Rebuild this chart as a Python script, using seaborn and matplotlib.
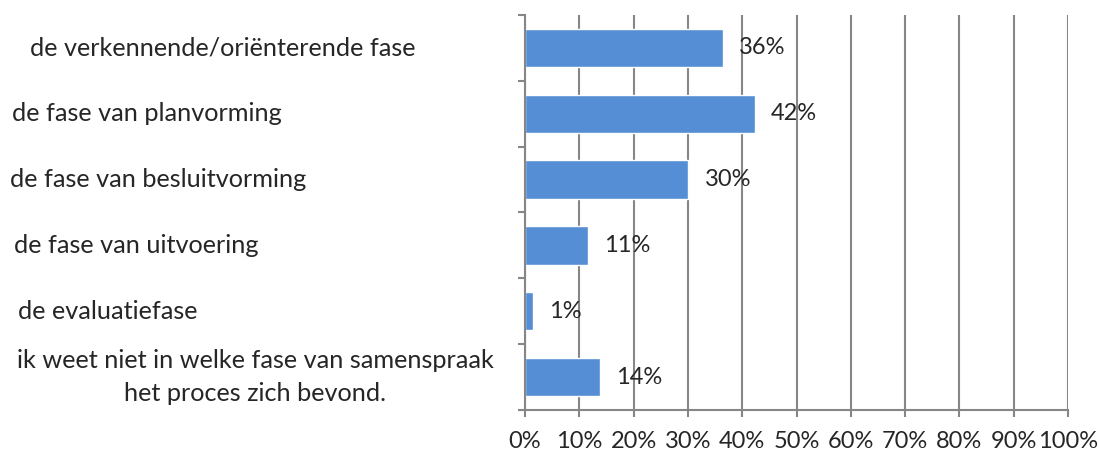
import pandas as pd
import seaborn as sns
import matplotlib.pyplot as plt
from matplotlib.ticker import FixedLocator

categories = [
    "de verkennende/oriënterende fase",
    "de fase van planvorming",
    "de fase van besluitvorming",
    "de fase van uitvoering",
    "de evaluatiefase",
    "ik weet niet in welke fase van samenspraak\nhet proces zich bevond.",
]
values = [36.4, 42.3, 30.1, 11.6, 1.5, 13.8]
labels = ["36%", "42%", "30%", "11%", "1%", "14%"]

df = pd.DataFrame({"fase": categories, "pct": values})

sns.set_style("white")
plt.rcParams["font.family"] = ["Lato", "DejaVu Sans"]

fig = plt.figure(figsize=(11, 4.54), dpi=100)
ax = fig.add_axes([0.4773, 0.0969, 0.4936, 0.8701])

sns.barplot(data=df, x="pct", y="fase", orient="h", color="#558ED5",
            saturation=1, width=0.58, ax=ax)

grey = "#868686"
ax.set_xlim(0, 100)
ax.set_ylim(5.5, -0.5)
ax.set_xticks(range(0, 101, 10))
ax.set_xticklabels([f"{t}%" for t in range(0, 101, 10)], fontsize=17)
ax.xaxis.grid(True, color=grey, linewidth=1.5)
ax.set_axisbelow(True)

# category boundaries as ticks on the left spine
ax.set_yticks([])
ax.yaxis.set_minor_locator(FixedLocator([i - 0.5 for i in range(7)]))
ax.tick_params(axis="y", which="minor", left=True, length=5, width=1.5, color=grey)
ax.tick_params(axis="x", bottom=True, length=5, width=1.5, color=grey, pad=10)
ax.set_xlabel("")
ax.set_ylabel("")

for side in ["top", "right"]:
    ax.spines[side].set_visible(False)
for side in ["left", "bottom"]:
    ax.spines[side].set_color(grey)
    ax.spines[side].set_linewidth(1.5)

# value labels next to the bars
for i, (v, lab) in enumerate(zip(values, labels)):
    ax.annotate(lab, (v, i), xytext=(16, 0), textcoords="offset pixels",
                va="center", ha="left", fontsize=17)

# category texts, placed like the original (left edge in figure pixels)
label_x = [30, 12, 10, 14, 18]
for i, (cat, px) in enumerate(zip(categories[:5], label_x)):
    ax.annotate(cat, (0, i), xycoords=("figure pixels", "data"),
                xytext=(px, 0), textcoords="offset pixels",
                va="center", ha="left", fontsize=18.2)
ax.annotate(categories[5], (0, 5), xycoords=("figure pixels", "data"),
            xytext=(255, 0), textcoords="offset pixels",
            va="center", ha="center", fontsize=18.2, linespacing=1.5)

fig.savefig("out.png", dpi=100)
